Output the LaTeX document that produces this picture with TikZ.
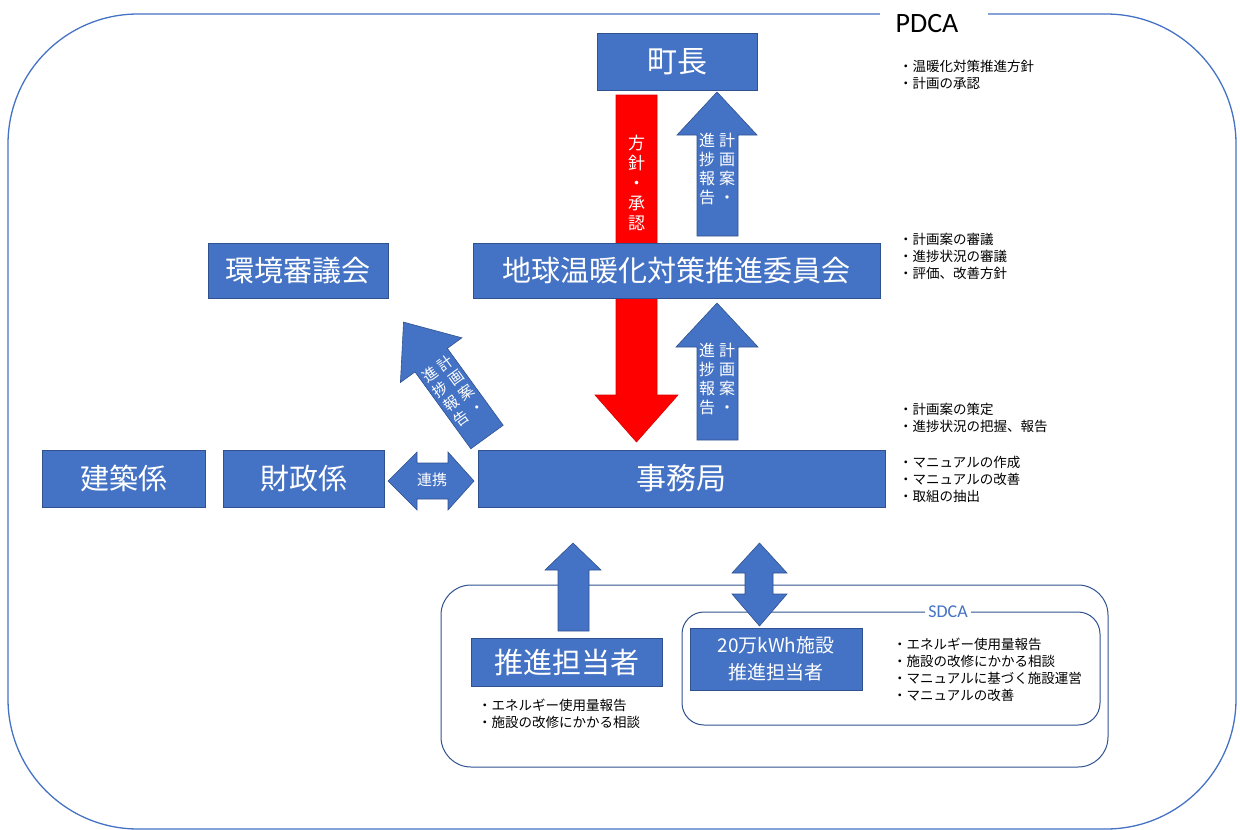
\documentclass[tikz,border=0pt]{standalone}
\usepackage{fontspec}
\setmainfont{Noto Sans CJK JP}
\newfontfamily\latinfont{Carlito}
\definecolor{bf}{HTML}{4472C4}
\definecolor{bd}{HTML}{2F528F}
\definecolor{rf}{HTML}{FF0000}
\newcommand{\fs}[2]{\fontsize{#1}{#2}\selectfont}
\begin{document}
\begin{tikzpicture}[x=1pt,y=-1pt,
  box/.style={fill=bf,draw=bd,line width=0.8pt,text=white,inner sep=0pt},
  blk/.style={fill=bf,draw=bd,line width=0.6pt},
  lst/.style={anchor=north west,align=left,inner sep=0pt,font=\fs{13.5}{17}},
  vt/.style={text=white,inner sep=0pt,align=center}]
\useasboundingbox (0,0) rectangle (1240,830);
% outer frame
\draw[draw=bf,line width=1.3pt,rounded corners=130pt] (8,14) rectangle (1236,829);
\fill[white] (880,0) rectangle (988,38);
\node[inner sep=0pt,font=\latinfont\fs{28}{30}] (pdca) at (927,24) {PDCA};
% bottom frames
\draw[draw=bd,line width=1pt,rounded corners=30pt] (441,585) rectangle (1108,767);
\draw[draw=bd,line width=1pt,rounded corners=22pt] (682,612) rectangle (1100,725);
\node[fill=white,inner sep=3pt,text=bf,font=\latinfont\fs{18}{20}] (sdca) at (948,612) {SDCA};
% block arrows
\filldraw[fill=rf,draw=rf!85!black,line width=0.6pt] (616,95) -- (657,95) -- (657,395) -- (678,395) -- (636.5,442) -- (595,395) -- (616,395) -- cycle;
\node[vt,font=\fs{17}{20}] (redtxt) at (636.5,183) {方\\針\\・\\承\\認};
\filldraw[blk] (697,236) -- (697,135) -- (677,135) -- (717,92) -- (757,135) -- (738,135) -- (738,236) -- cycle;
\node[vt,font=\fs{16}{18.5}] (up1txt) at (717,171) {\begin{tabular}{@{}c@{\hspace{4pt}}c@{}}進&計\\捗&画\\報&案\\告&・\end{tabular}};
\filldraw[blk] (697,440) -- (697,347) -- (676,347) -- (717,303) -- (758,347) -- (738,347) -- (738,440) -- cycle;
\node[vt,font=\fs{16}{18.5}] (up2txt) at (717,381) {\begin{tabular}{@{}c@{\hspace{4pt}}c@{}}進&計\\捗&画\\報&案\\告&・\end{tabular}};
\begin{scope}[shift={(487,437)},rotate=36]
\filldraw[blk] (-20,0) -- (-20,-95) -- (-38,-95) -- (0,-142) -- (38,-95) -- (20,-95) -- (20,0) -- cycle;
\node[vt,rotate=36,font=\fs{15}{18}] (diagtxt) at (0,-55) {\begin{tabular}{@{}c@{\hspace{4pt}}c@{}}進&計\\捗&画\\報&案\\告&・\end{tabular}};
\end{scope}
\filldraw[blk] (417,463) -- (417,452) -- (388,481) -- (417,510) -- (417,499) -- (448,499) -- (448,510) -- (474,481) -- (448,452) -- (448,463) -- cycle;
\node[vt,font=\fs{15}{17}] (renkei) at (432,480) {連携};
\filldraw[blk] (558,631) -- (558,570) -- (545,570) -- (573,543) -- (601,570) -- (589,570) -- (589,631) -- cycle;
\filldraw[blk] (745,573) -- (732,573) -- (759.5,543) -- (787,573) -- (773,573) -- (773,594) -- (787,594) -- (759.5,626) -- (732,594) -- (745,594) -- cycle;
% boxes
\node[box,minimum width=160pt,minimum height=57pt,font=\fs{30}{32}] (chou) at (677,61.5) {町長};
\node[box,minimum width=407pt,minimum height=55pt,font=\fs{29}{32}] (iinkai) at (676.5,270.5) {地球温暖化対策推進委員会};
\node[box,minimum width=180pt,minimum height=55pt,font=\fs{29}{32}] (kankyo) at (298,270.5) {環境審議会};
\node[box,minimum width=407pt,minimum height=57pt,font=\fs{30}{32}] (jimu) at (681.5,478.5) {事務局};
\node[box,minimum width=161pt,minimum height=57pt,font=\fs{29}{32}] (zaisei) at (303.5,478.5) {財政係};
\node[box,minimum width=163pt,minimum height=57pt,font=\fs{29}{32}] (kenchiku) at (123.5,478.5) {建築係};
\node[box,minimum width=191pt,minimum height=48pt,font=\fs{29}{32}] (suishin) at (566.5,662) {推進担当者};
\node[box,minimum width=172pt,minimum height=62pt,align=center,font=\fs{19}{27}] (shisetsu) at (776,659) {20万kWh施設\\推進担当者};
% lists
\node[lst] (l1) at (899,60) {・温暖化対策推進方針\\・計画の承認};
\node[lst] (l2) at (899,233) {・計画案の審議\\・進捗状況の審議\\・評価、改善方針};
\node[lst] (l3) at (899,403) {・計画案の策定\\・進捗状況の把握、報告};
\node[lst] (l4) at (899,456) {・マニュアルの作成\\・マニュアルの改善\\・取組の抽出};
\node[lst] (l5) at (893,638) {・エネルギー使用量報告\\・施設の改修にかかる相談\\・マニュアルに基づく施設運営\\・マニュアルの改善};
\node[lst] (l6) at (478,699) {・エネルギー使用量報告\\・施設の改修にかかる相談};
\end{tikzpicture}
\end{document}
